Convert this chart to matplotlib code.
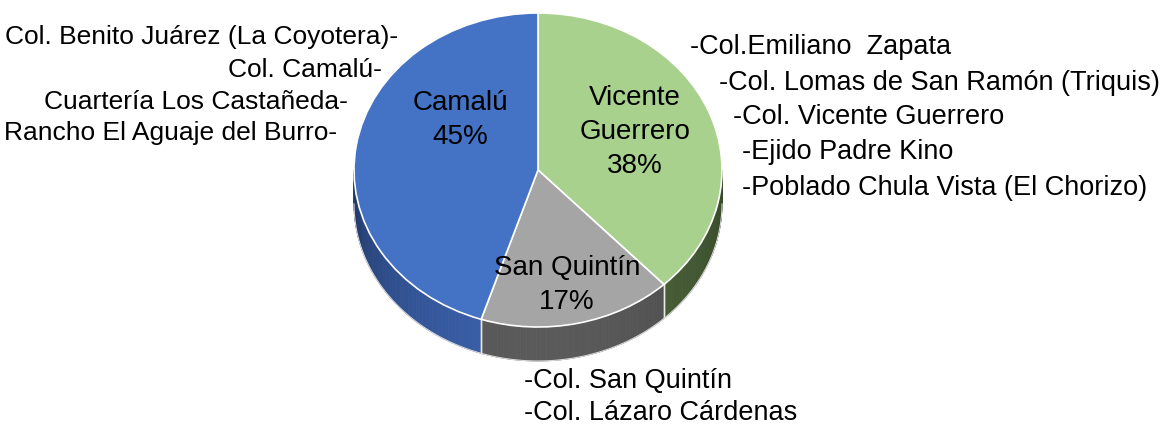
import numpy as np
import matplotlib
matplotlib.use("Agg")
from matplotlib import pyplot as plt
from matplotlib.patches import Polygon

# Data
#------------------------------------------------------------------------------
categories = ["Vicente\nGuerrero", "San Quintín", "Camalú"]
shares = [38, 17, 45]
top_colors = ["#A9D18E", "#A5A5A5", "#4472C4"]
side_colors = [("#4B6339", "#374A2A"), ("#5A5A5A", "#3A3A3A"), ("#3A5FA8", "#1F3562")]

left_labels = ["Col. Benito Juárez (La Coyotera)-", "Col. Camalú-",
               "Cuartería Los Castañeda-", "Rancho El Aguaje del Burro-"]
right_labels = ["-Col.Emiliano  Zapata", "-Col. Lomas de San Ramón (Triquis)",
                "-Col. Vicente Guerrero", "-Ejido Padre Kino",
                "-Poblado Chula Vista (El Chorizo)"]
bottom_labels = ["-Col. San Quintín", "-Col. Lázaro Cárdenas"]

plt.rcParams['font.family'] = ['Liberation Sans', 'DejaVu Sans']

W, H = 1167, 428
cx, cy, rx, ry = 538, 170, 184, 157   # ellipse of the top face, pixels
depth = 34 / ry                      # thickness in pie units


def px(x, y):
    return x / W, 1 - y / H


def main():
    fig = plt.figure(figsize=(W / 100, H / 100), dpi=100)
    ax = fig.add_axes([0, 0, 1, 1])

    # side walls (front half only)
    total = float(sum(shares))
    start = 90.0
    for k, s in enumerate(shares):
        end = start - 360.0 * s / total
        lo, hi = max(end, -180.0), min(start, 0.0)
        if lo < hi:
            ts = np.linspace(lo, hi, 60)
            c1, c2 = [np.array(matplotlib.colors.to_rgb(c)) for c in side_colors[k]]
            for a, b in zip(ts[:-1], ts[1:]):
                t = np.radians([a, b])
                f = abs(np.cos(np.radians((a + b) / 2 + 90)))
                col = c2 + (c1 - c2) * f
                xs = np.cos(t)
                ys = np.sin(t)
                poly = Polygon([[xs[0], ys[0]], [xs[1], ys[1]],
                                [xs[1], ys[1] - depth], [xs[0], ys[0] - depth]],
                               closed=True, facecolor=col, edgecolor=col, lw=0.6,
                               zorder=1)
                ax.add_patch(poly)
            # edge lines of the wall
            for t in (lo, hi):
                if -180 < t < 0:
                    r = np.radians(t)
                    ax.plot([np.cos(r), np.cos(r)], [np.sin(r), np.sin(r) - depth],
                            color="#E8E8E8", lw=1, zorder=2)
        start = end

    tt = np.radians(np.linspace(-180, 0, 200))
    ax.plot(np.cos(tt), np.sin(tt) - depth, color="#D9D9D9", lw=0.8, zorder=2)

    # top face
    ax.pie(shares, colors=top_colors, startangle=90, counterclock=False,
           radius=1, center=(0, 0), frame=True,
           wedgeprops=dict(edgecolor="white", linewidth=1.2, zorder=3))
    ax.set_xlim((0 - cx) / rx, (W - cx) / rx)
    ax.set_ylim((cy - H) / ry, cy / ry)
    ax.set_aspect('auto')
    ax.axis('off')

    # labels inside slices
    inner_pos = [(635, 132), (567, 285), (460, 120)]
    for k, (x, y) in enumerate(inner_pos):
        txt = "{}\n{}%".format(categories[k], shares[k])
        fig.text(*px(x, y), txt, ha="center", va="center", fontsize=20,
                 linespacing=1.4, color="black")

    # community lists
    left_pos = [(398, 37), (382, 70), (348, 102), (337, 133)]
    for lab, (x, y) in zip(left_labels, left_pos):
        fig.text(*px(x, y), lab, ha="right", va="center", fontsize=19)
    right_pos = [(690, 47), (719, 83), (733, 117), (742, 152), (742, 188)]
    for lab, (x, y) in zip(right_labels, right_pos):
        fig.text(*px(x, y), lab, ha="left", va="center", fontsize=19.5)
    bottom_pos = [(524, 381), (524, 413)]
    for lab, (x, y) in zip(bottom_labels, bottom_pos):
        fig.text(*px(x, y), lab, ha="left", va="center", fontsize=19.5)

    fig.savefig("out.png", dpi=100, facecolor="white")


if __name__ == "__main__":
    main()
